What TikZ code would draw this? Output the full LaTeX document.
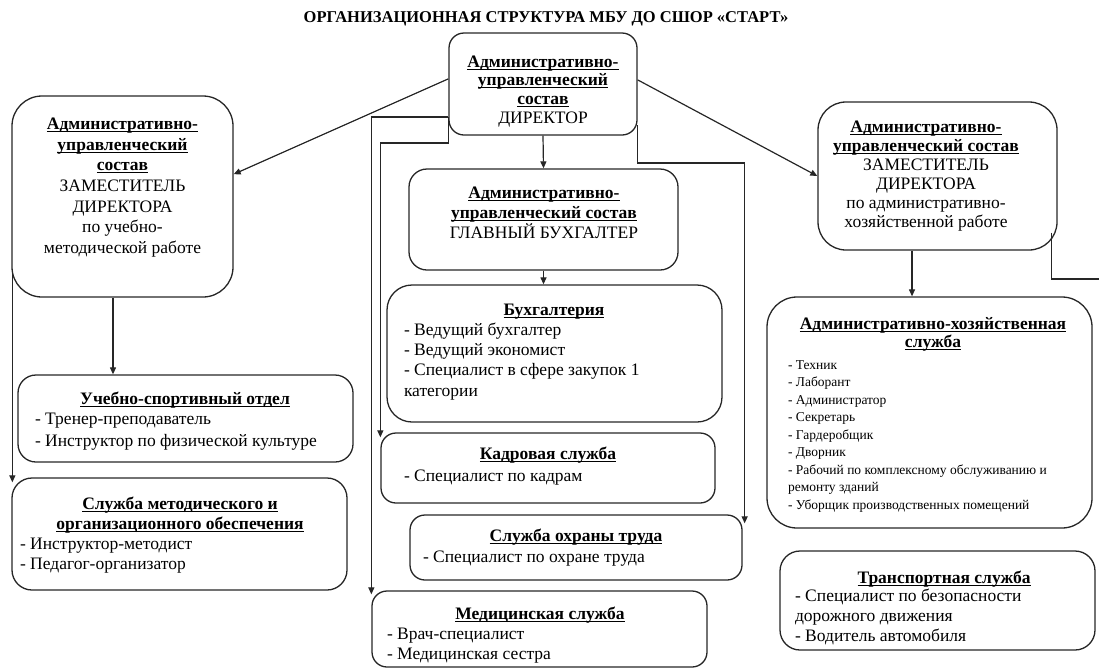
\documentclass[tikz,border=0pt]{standalone}
\usepackage{fontspec}
\setmainfont{Liberation Serif}
\usetikzlibrary{arrows.meta,calc}
\newcommand{\ulb}[1]{\setbox0\hbox{\bfseries #1}\rlap{\rule[-2.6pt]{\wd0}{1.1pt}}\box0}
\newcommand{\bigf}{\fontsize{17.5}{20.5}\selectfont}
\newcommand{\smallf}{\fontsize{13.5}{17.5}\selectfont}
\begin{document}
\begin{tikzpicture}[x=1pt,y=-1pt,
  box/.style={draw=black!85, line width=1.3pt},
  txt/.style={inner sep=0pt, outer sep=0pt, align=center, anchor=north},
  ltxt/.style={inner sep=0pt, outer sep=0pt, align=left, anchor=north west},
  arr/.style={draw=black!85, line width=1.2pt, -{Triangle[length=7pt,width=6pt]}},
  ln/.style={draw=black!85, line width=1.2pt}]
\useasboundingbox (0,0) rectangle (1099,670);

% title
\node[inner sep=0pt, font=\fontsize{16.5}{20}\selectfont\bfseries] (title) at (546,19) {ОРГАНИЗАЦИОННАЯ СТРУКТУРА МБУ ДО СШОР «СТАРТ»};

% boxes
\node[box, rounded corners=15pt, minimum width=188pt, minimum height=102pt] (D) at (543,84) {};
\node[box, rounded corners=30pt, minimum width=221pt, minimum height=201pt] (L) at (122.5,196.5) {};
\node[box, rounded corners=28pt, minimum width=239pt, minimum height=148pt] (R) at (937.5,176) {};
\node[box, rounded corners=18pt, minimum width=269pt, minimum height=101pt] (GB) at (543.5,219.5) {};
\node[box, rounded corners=25pt, minimum width=335pt, minimum height=137pt] (BUX) at (554.5,353.5) {};
\node[box, rounded corners=15pt, minimum width=334pt, minimum height=70pt] (KAD) at (548,468) {};
\node[box, rounded corners=15pt, minimum width=332pt, minimum height=65pt] (OHR) at (576,547.5) {};
\node[box, rounded corners=15pt, minimum width=335pt, minimum height=76pt] (MED) at (539.5,629) {};
\node[box, rounded corners=18pt, minimum width=335pt, minimum height=87pt] (US) at (185.5,418.5) {};
\node[box, rounded corners=20pt, minimum width=335pt, minimum height=112pt] (MET) at (179.5,534) {};
\node[box, rounded corners=30pt, minimum width=325pt, minimum height=231pt] (AHS) at (929.5,412.5) {};
\node[box, rounded corners=20pt, minimum width=315pt, minimum height=99pt] (TR) at (937.5,600.5) {};

% texts
\node[txt, font=\fontsize{17.5}{18.7}\selectfont] (Dt) at (543,54)
  {\strut\ulb{Административно-}\\\ulb{управленческий}\\\ulb{состав}\\ДИРЕКТОР};
\node[txt, font=\fontsize{17.5}{20.7}\selectfont] (Lt) at (122.5,115)
  {\strut\ulb{Административно-}\\\ulb{управленческий}\\\ulb{состав}\\ЗАМЕСТИТЕЛЬ\\ДИРЕКТОРА\\по учебно-\\методической работе};
\node[txt, font=\fontsize{17.5}{19}\selectfont] (Rt) at (926,119)
  {\strut\ulb{Административно-}\\\ulb{управленческий состав}\\ЗАМЕСТИТЕЛЬ\\ДИРЕКТОРА\\по административно-\\хозяйственной работе};
\node[txt, font=\fontsize{17.5}{20}\selectfont] (GBt) at (544,184)
  {\strut\ulb{Административно-}\\\ulb{управленческий состав}\\ГЛАВНЫЙ БУХГАЛТЕР};

\node[txt, font=\bigf] (BUXh) at (554,301) {\strut\ulb{Бухгалтерия}};
\node[ltxt, font=\fontsize{17.5}{20.3}\selectfont] (BUXi) at (404,321)
  {\strut- Ведущий бухгалтер\\- Ведущий экономист\\- Специалист в сфере закупок 1\\категории};

\node[txt, font=\bigf] (KADh) at (548,445) {\strut\ulb{Кадровая служба}};
\node[ltxt, font=\bigf] (KADi) at (404,467) {\strut- Специалист по кадрам};

\node[txt, font=\bigf] (OHRh) at (576,527) {\strut\ulb{Служба охраны труда}};
\node[ltxt, font=\bigf] (OHRi) at (423,548) {\strut- Специалист по охране труда};

\node[txt, font=\bigf] (MEDh) at (540,605) {\strut\ulb{Медицинская служба}};
\node[ltxt, font=\fontsize{17.5}{20}\selectfont] (MEDi) at (387,625)
  {\strut- Врач-специалист\\- Медицинская сестра};

\node[txt, font=\bigf] (USh) at (185,390) {\strut\ulb{Учебно-спортивный отдел}};
\node[ltxt, font=\fontsize{17.5}{22}\selectfont] (USi) at (35,409)
  {\strut- Тренер-преподаватель\\- Инструктор по физической культуре};

\node[txt, font=\fontsize{17.5}{20}\selectfont] (METh) at (180,495)
  {\strut\ulb{Служба методического и}\\\ulb{организационного обеспечения}};
\node[ltxt, font=\fontsize{17.5}{20}\selectfont] (METi) at (20,535)
  {\strut- Инструктор-методист\\- Педагог-организатор};

\node[txt, font=\fontsize{17.5}{18}\selectfont] (AHSh) at (933,317)
  {\strut\ulb{Административно-хозяйственная}\\\ulb{служба}};
\node[ltxt, font=\smallf] (AHSi) at (788,357)
  {\strut- Техник\\- Лаборант\\- Администратор\\- Секретарь\\- Гардеробщик\\- Дворник\\- Рабочий по комплексному обслуживанию и\\ремонту зданий\\- Уборщик производственных помещений};

\node[txt, font=\bigf] (TRh) at (944,569) {\strut\ulb{Транспортная служба}};
\node[ltxt, font=\fontsize{17.5}{20}\selectfont] (TRi) at (795,587)
  {\strut- Специалист по безопасности\\дорожного движения\\- Водитель автомобиля};

% connectors
\draw[arr] ($(D.north west)!0.45!(D.south west)$) -- ($(L.north east)!0.39!(L.south east)$);
\draw[arr] ($(D.north east)!0.46!(D.south east)$) -- (R.west);
\draw[arr] (D.south) -- (GB.north);
\draw[arr] (GB.south) -- (GB.south |- BUX.north);
\draw[arr] (D.west |- 0,117) -| ($(MED.north west)+(0,4)$);
\draw[arr] (D.west |- 0,117) -- (D.west |- 0,143) -| ($(KAD.north west)+(0,5)$);
\draw[arr] (D.east |- 0,125) -- (D.east |- 0,163) -| ($(OHR.north east)+(2,9)$);
\coordinate (Lb) at ($(L.south)+(-9.5,0)$);
\draw[arr] (Lb) -- (Lb |- US.north);
\draw[arr] ($(L.south west)+(1,-27)$) -- ($(MET.north west)+(1,5)$);
\coordinate (Rb) at ($(R.south)+(-25.5,0)$);
\draw[arr] (Rb) -- (Rb |- AHS.north);
\coordinate (offR) at (1099,279);
\draw[ln] ($(R.south east)+(-6,-18)$) |- (offR);
\end{tikzpicture}
\end{document}
